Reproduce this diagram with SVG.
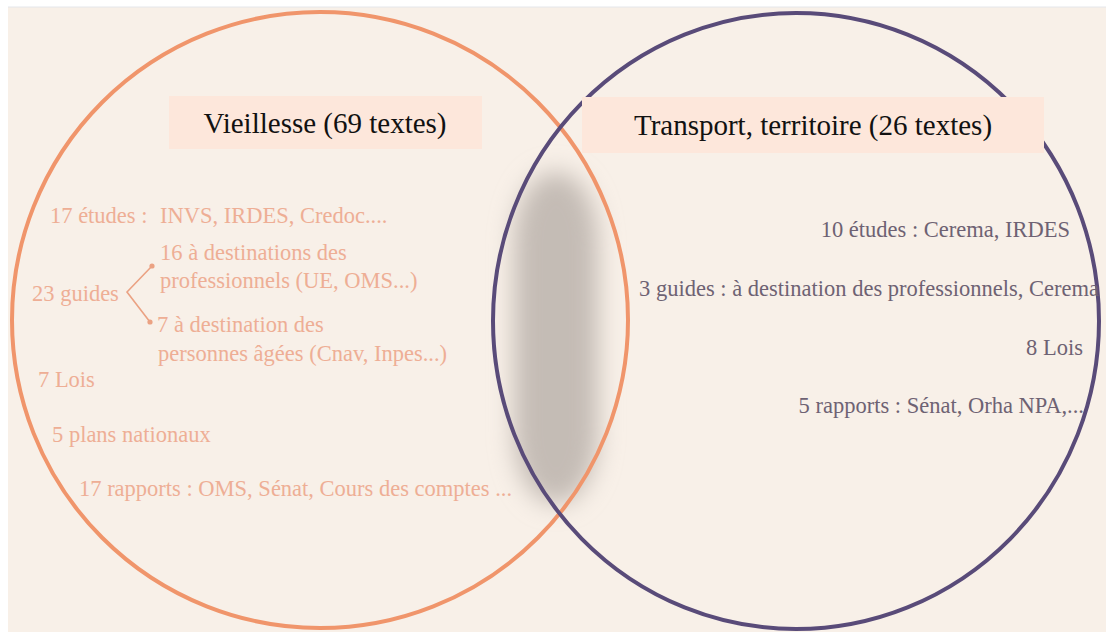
<svg xmlns="http://www.w3.org/2000/svg" width="1106" height="632" viewBox="0 0 1106 632">
  <defs>
    <filter id="blur" x="-100%" y="-50%" width="300%" height="200%">
      <feGaussianBlur stdDeviation="12"/>
    </filter>
    <style>
      .title { font-family: 'Liberation Serif', serif; font-size: 29px; fill: #111111; }
      .box { fill: #fde7db; }
      .lt { font-family: 'Liberation Serif', serif; font-size: 22.5px; fill: #eeae95; }
      .rt { font-family: 'Liberation Serif', serif; font-size: 22.5px; fill: #6e6273; text-anchor: end; }
      .conn { stroke: #eba283; stroke-width: 1.6; fill: none; }
      .dot { fill: #eba283; }
    </style>
  </defs>

  <rect x="0" y="0" width="1106" height="632" fill="#ffffff"/>
  <rect x="8" y="7" width="1098" height="625" fill="#f8f0e8"/>
  <line x1="8" y1="7" x2="1106" y2="7" stroke="#e4e6ea" stroke-width="1"/>

  <g id="overlap-shadow">
    <rect x="514" y="172" width="84" height="332" rx="42" ry="70" fill="#c4bcb5" filter="url(#blur)"/>
  </g>

  <g id="circle-vieillesse">
    <circle cx="320" cy="320" r="308" fill="none" stroke="#f0956b" stroke-width="4"/>
  </g>
  <g id="circle-transport">
    <ellipse cx="796" cy="321" rx="303" ry="308" fill="none" stroke="#594b79" stroke-width="4"/>
  </g>

  <g id="label-vieillesse">
    <rect class="box" x="169" y="96" width="313" height="53"/>
    <text class="title" x="325" y="133" text-anchor="middle">Vieillesse (69 textes)</text>
  </g>
  <g id="label-transport">
    <rect class="box" x="582" y="97" width="462" height="56"/>
    <text class="title" x="813" y="135" text-anchor="middle">Transport, territoire (26 textes)</text>
  </g>

  <g id="vieillesse-items">
    <text class="lt" x="50" y="223">17 études :<tspan x="160">INVS, IRDES, Credoc....</tspan></text>
    <text class="lt" x="160" y="260">16 à destinations des</text>
    <text class="lt" x="160" y="288">professionnels (UE, OMS...)</text>
    <text class="lt" x="32" y="301">23 guides</text>
    <text class="lt" x="157" y="332">7 à destination des</text>
    <text class="lt" x="158" y="361">personnes âgées (Cnav, Inpes...)</text>
    <text class="lt" x="38" y="387">7 Lois</text>
    <text class="lt" x="52" y="442">5 plans nationaux</text>
    <text class="lt" x="79" y="496">17 rapports : OMS, Sénat, Cours des comptes ...</text>
  </g>

  <g id="transport-items">
    <text class="rt" x="1070" y="237">10 études : Cerema, IRDES</text>
    <text class="rt" x="1099" y="296">3 guides : à destination des professionnels, Cerema</text>
    <text class="rt" x="1083" y="355">8 Lois</text>
    <text class="rt" x="1084" y="413">5 rapports : Sénat, Orha NPA,...</text>
  </g>

  <g id="connectors">
    <polyline class="conn" points="152,266 127,292 150,322"/>
    <circle class="dot" cx="152" cy="266" r="2.6"/>
    <circle class="dot" cx="150" cy="322" r="2.6"/>
  </g>
</svg>
